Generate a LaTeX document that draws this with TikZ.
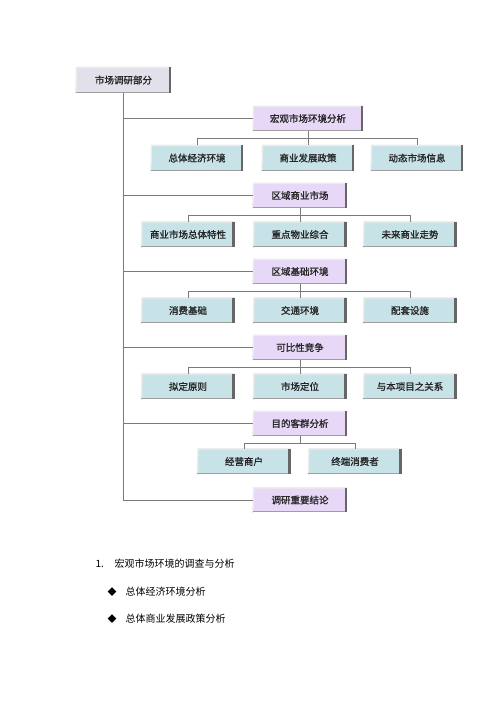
\documentclass[tikz,border=0pt]{standalone}
\usepackage{fontspec}
\setmainfont{Noto Sans CJK SC}
\newfontfamily\boxfont[FakeBold=1.2]{Noto Sans CJK SC}
\usepackage{tikz}

\definecolor{topfill}{HTML}{E2E0EA}
\definecolor{violetfill}{HTML}{E8D8F8}
\definecolor{cyanfill}{HTML}{C8E3E7}
\definecolor{linegray}{HTML}{7A7A7A}

\begin{document}
\begin{tikzpicture}[x=1pt,y=-1pt,
  box/.style={inner sep=0pt,minimum height=25pt,font=\boxfont\fontsize{9.5}{11}\selectfont,text=black!85},
  headbox/.style={box,fill=topfill,minimum width=95pt},
  mainbox/.style={box,fill=violetfill,minimum width=94pt,minimum height=24pt},
  subbox/.style={box,fill=cyanfill,minimum width=93pt},
  link/.style={draw=linegray,line width=0.9pt}]
\useasboundingbox (0,0) rectangle (500,707);
% Head
\node[headbox] (top) at (123.5,80) {市场调研部分};
% Main topics
\node[mainbox,minimum width=110pt] (p1) at (308,118.5) {宏观市场环境分析};
\node[mainbox] (p2) at (300,195.5) {区域商业市场};
\node[mainbox] (p3) at (300,271.5) {区域基础环境};
\node[mainbox] (p4) at (300,347.5) {可比性竞争};
\node[mainbox] (p5) at (300,423.5) {目的客群分析};
\node[mainbox] (p6) at (300,500) {调研重要结论};
% Sub topics
\node[subbox,minimum width=92pt] (c11) at (197,158) {总体经济环境};
\node[subbox,minimum width=92pt] (c12) at (308,158) {商业发展政策};
\node[subbox,minimum width=92pt] (c13) at (417,158) {动态市场信息};
\node[subbox] (c21) at (188,234.5) {商业市场总体特性};
\node[subbox] (c22) at (300,234.5) {重点物业综合};
\node[subbox] (c23) at (410,234.5) {未来商业走势};
\node[subbox] (c31) at (188,310.5) {消费基础};
\node[subbox] (c32) at (300,310.5) {交通环境};
\node[subbox] (c33) at (410,310.5) {配套设施};
\node[subbox] (c41) at (188,386.5) {拟定原则};
\node[subbox] (c42) at (300,386.5) {市场定位};
\node[subbox] (c43) at (410,386.5) {与本项目之关系};
\node[subbox] (c51) at (244,461.5) {经营商户};
\node[subbox] (c52) at (355,461.5) {终端消费者};
% Bevel edges
\foreach \n in {top,p1,p2,p3,p4,p5,p6,c11,c12,c13,c21,c22,c23,c31,c32,c33,c41,c42,c43,c51,c52} {
  \draw[white!85!gray,line width=1.4pt] ([yshift=-0.7pt]\n.south west) -- ([xshift=0.7pt]\n.north west) -- (\n.north east);
  \draw[gray!75,line width=1.2pt] ([yshift=0.6pt]\n.south west) -- ([yshift=0.6pt]\n.south east);
  \draw[black!60,line width=2.6pt] ([xshift=-1.3pt]\n.south east) -- ([xshift=-1.3pt]\n.north east);
}
% Trunk
\draw[link] (top.south) |- (p6.west);
\foreach \p in {p1,p2,p3,p4,p5} \draw[link] (top.south |- \p.west) -- (\p.west);
% Branches
\foreach \p/\a/\b/\c in {p1/c11/c12/c13,p2/c21/c22/c23,p3/c31/c32/c33,p4/c41/c42/c43} {
  \draw[link] (\p.south) -- ++(0,7.5) coordinate (j);
  \draw[link] (\a.north) |- (j) -| (\c.north);
  \draw[link] (j) -| (\b.north);
}
\draw[link] (p5.south) -- ++(0,7.5) coordinate (j5);
\draw[link] (c51.north) |- (j5) -| (c52.north);
% Text below
\node[anchor=west,font=\fontsize{10}{12}\selectfont] (num) at (92,564) {1.};
\node[anchor=west,font=\fontsize{10}{12}\selectfont] (h1) at (111,564) {宏观市场环境的调查与分析};
\node[font=\fontsize{9}{11}\selectfont] (d1) at (112,592) {◆};
\node[anchor=west,font=\fontsize{10}{12}\selectfont] (t1) at (122,592) {总体经济环境分析};
\node[font=\fontsize{9}{11}\selectfont] (d2) at (112,619) {◆};
\node[anchor=west,font=\fontsize{10}{12}\selectfont] (t2) at (122,619) {总体商业发展政策分析};
\end{tikzpicture}
\end{document}
